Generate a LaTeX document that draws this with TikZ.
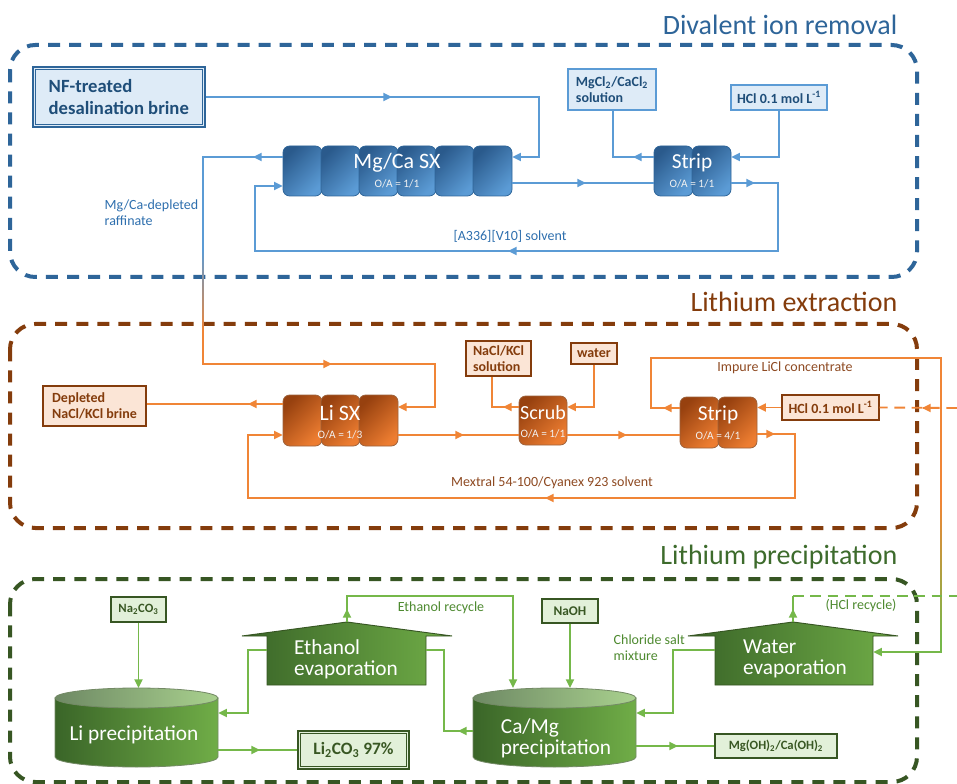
\documentclass[tikz,border=0pt]{standalone}
\usepackage{fontspec}
\setmainfont{Carlito}
\usetikzlibrary{arrows.meta,calc,fit}
\definecolor{bdark}{HTML}{2E6599}
\definecolor{bline}{HTML}{5B9BD5}
\definecolor{bfill}{HTML}{DEEBF7}
\definecolor{btext}{HTML}{1F4E79}
\definecolor{blabel}{HTML}{2E6FAE}
\definecolor{bblk1}{HTML}{2A5A8C}
\definecolor{bblk2}{HTML}{5B9BD5}
\definecolor{brn}{HTML}{843C0C}
\definecolor{olabel}{HTML}{8E4A22}
\definecolor{oline}{HTML}{F08536}
\definecolor{ofill}{HTML}{FBE5D6}
\definecolor{oblk1}{HTML}{97410F}
\definecolor{oblk2}{HTML}{ED7D31}
\definecolor{gdark}{HTML}{375623}
\definecolor{gtitle}{HTML}{3D6B2C}
\definecolor{glabel}{HTML}{4E8A30}
\definecolor{gline}{HTML}{75B84A}
\definecolor{gfill}{HTML}{E2F0D9}
\definecolor{gtext}{HTML}{385723}
\definecolor{gblk1}{HTML}{3A6528}
\definecolor{gblk2}{HTML}{70AD47}
\definecolor{gtop1}{HTML}{6E8964}
\definecolor{gtop2}{HTML}{A9D18E}
\newcommand\myfs[2]{\fontsize{#1}{#2}\selectfont}
\newcommand\tipat[3]{\draw[conn,#1,-{Triangle[length=6.5pt,width=6pt]}] ($(#2)+(#3)$) -- (#2);}
\tikzset{
  sec/.style={line width=3pt, dash pattern=on 9pt off 6.8pt, rounded corners=19pt},
  conn/.style={line width=1.4pt},
  tip/.style={-{Triangle[length=6.5pt,width=6pt]}},
  ttl/.style={anchor=base east, font=\myfs{21}{25}},
  bbox/.style={inner sep=0pt, draw=bline, line width=1pt, fill=bfill},
  obox/.style={inner sep=0pt, draw=brn, line width=1pt, fill=ofill},
  gbox/.style={inner sep=0pt, draw=gdark, line width=1pt, fill=gfill},
  btxt/.style={text=btext, align=left, font=\bfseries\myfs{10.5}{12}},
  otxt/.style={text=brn, align=left, font=\bfseries\myfs{10.5}{12}},
  gtxt/.style={text=gtext, align=left, font=\bfseries\myfs{10}{12}},
  blkB/.style={draw=bdark, line width=0.6pt, rounded corners=5pt, top color=bblk1, bottom color=bblk2, shading angle=45},
  blkO/.style={draw=brn!80, line width=0.6pt, rounded corners=5pt, top color=oblk1, bottom color=oblk2, shading angle=45},
  blab/.style={text=white, font=\myfs{16.5}{18}},
  slab/.style={text=white, font=\myfs{16}{18}},
  oalab/.style={text=white!90!gray, font=\myfs{8.5}{10}},
  lbl/.style={font=\myfs{10.5}{12}, align=left},
  cylb/.style={draw=gdark!70, line width=0.6pt, left color=gblk1, right color=gblk2},
  cylt/.style={draw=gdark!70, line width=0.6pt, left color=gtop1, right color=gtop2},
  evap/.style={draw=gdark, line width=0.7pt, left color=gblk1, right color=gblk2},
  wlab/.style={text=white, align=left, font=\myfs{16}{16}},
}
\begin{document}
\begin{tikzpicture}[x=0.75pt,y=-0.75pt]
\useasboundingbox (0,0) rectangle (957,784);
\fill[white] (0,0) rectangle (957,784);
% sections
\draw[sec,draw=bdark] (10,45) rectangle (917,277);
\draw[sec,draw=brn] (10,324) rectangle (917,528);
\draw[sec,draw=gdark] (10,579) rectangle (917,782);
\node[ttl,text=bdark] (t1) at (902,35) {Divalent ion removal};
\node[ttl,text=brn] (t2) at (902,312) {Lithium extraction};
\node[ttl,text=gtitle] (t3) at (902,564) {Lithium precipitation};

% ---------- blue section ----------
\node[fit={(33,67)(205,127)}, inner sep=0pt, draw=bdark, line width=2.2pt, fill=bfill] (nf) {};
\draw[bdark, line width=0.8pt] ($(nf.north west)+(4,4)$) rectangle ($(nf.south east)+(-4,-4)$);
\node[anchor=west, align=left, text=btext, font=\bfseries\myfs{14}{16.5}] (nftxt) at (44,97) {NF-treated\\desalination brine};
\node[bbox, fit={(568,69)(656,110)}] (mgcl) {};
\node[btxt] (mgclt) at (mgcl.center) {MgCl\textsubscript{2}/CaCl\textsubscript{2}\\solution};
\node[bbox, fit={(731,85)(827,110)}] (hcl) {};
\node[btxt] (hclt) at (hcl.center) {HCl 0.1 mol L\textsuperscript{-1}};
\foreach \i in {0,...,5}{\path[blkB] ({283+38*\i},146) rectangle ({283+38*\i+39},196);}
\node[fit={(283,146)(512,196)}, inner sep=0pt] (sx) {};
\node[blab] (sxl) at (397,163) {Mg/Ca SX};
\node[oalab] (sxo) at (397,184) {O/A = 1/1};
\path[blkB] (654,146) rectangle (693,196);
\path[blkB] (692,146) rectangle (731,196);
\node[fit={(654,146)(731,196)}, inner sep=0pt] (strip) {};
\node[slab] (stl) at (692,163) {Strip};
\node[oalab] (sto) at (692,184) {O/A = 1/1};

\draw[conn,bline,tip] (nf.east) -- (nf.east -| 539,0) -- (539,157) -- (sx.east |- 0,157);
\tipat{bline}{392,97}{-1,0}
\draw[conn,bline] (sx.west |- 0,157) -- (203,157) -- (203,251);
\path[top color=bline,bottom color=oline] (202.07,250) rectangle (203.93,331);
\draw[conn,oline,tip] (203,330) -- (203,364) -- (435,364) -- (435,407) -- (398,407);
\tipat{bline}{253,157}{1,0}
\tipat{oline}{332,364}{-1,0}
\draw[conn,bline] (sx.east |- 0,183) -- (strip.west |- 0,183);
\tipat{bline}{586,183}{-1,0}
\draw[conn,bline] (strip.west |- 0,157) -- (613,157) -- (613,0 |- mgcl.south);
\tipat{bline}{633,157}{1,0}
\draw[conn,bline,tip] (hcl.south) -- (hcl.south |- 0,157) -- (strip.east |- 0,157);
\draw[conn,bline,tip] (strip.east |- 0,183) -- (778,183) -- (778,251) -- (255,251) -- (255,186) -- (sx.west |- 0,186);
\tipat{bline}{755,183}{-1,0}
\tipat{bline}{508,251}{1,0}
\node[lbl, text=blabel, anchor=west] (raff) at (100,213) {Mg/Ca-depleted\\raffinate};
\node[lbl, text=blabel] (solv) at (510,236) {[A336][V10] solvent};

% ---------- brown section ----------
\path[blkO] (283,395) rectangle (322,446);
\path[blkO] (321,395) rectangle (360,446);
\path[blkO] (359,395) rectangle (398,446);
\node[fit={(283,395)(398,446)}, inner sep=0pt] (lisx) {};
\node[blab] (lil) at (340,413) {Li SX};
\node[oalab] (lio) at (340,435) {O/A = 1/3};
\path[blkO] (519,396) rectangle (567,445);
\node[fit={(519,396)(567,445)}, inner sep=0pt] (scrub) {};
\node[slab, font=\myfs{15}{17}] (scl) at (543,413) {Scrub};
\node[oalab] (sco) at (543,434) {O/A = 1/1};
\path[blkO] (680,397) rectangle (719,448);
\path[blkO] (718,397) rectangle (757,448);
\node[fit={(680,397)(757,448)}, inner sep=0pt] (strip2) {};
\node[slab] (s2l) at (718,415) {Strip};
\node[oalab] (s2o) at (718,436) {O/A = 4/1};
\node[obox, fit={(43,386)(146,426)}] (dep) {};
\node[otxt] (dept) at (dep.center) {Depleted\\NaCl/KCl brine};
\node[obox, fit={(466,341)(531,376)}] (nacl) {};
\node[otxt] (naclt) at (nacl.center) {NaCl/KCl\\solution};
\node[obox, fit={(571,343)(617,364)}] (water) {};
\node[otxt] (watert) at (water.center) {water};
\node[obox, fit={(782,395)(879,420)}] (hcl2) {};
\node[otxt] (hcl2t) at (hcl2.center) {HCl 0.1 mol L\textsuperscript{-1}};
\coordinate (hclin) at (957,408);

\draw[conn,oline] (lisx.west |- 0,404) -- (dep.east |- 0,404);
\tipat{oline}{248,404}{1,0}
\draw[conn,oline] (lisx.east |- 0,435) -- (scrub.west |- 0,435);
\tipat{oline}{464,435}{-1,0}
\draw[conn,oline] (scrub.west |- 0,407) -- (492,407) -- (492,0 |- nacl.south);
\tipat{oline}{503,407}{1,0}
\draw[conn,oline,tip] (water.south) -- (water.south |- 0,407) -- (scrub.east |- 0,407);
\draw[conn,oline] (scrub.east |- 0,435) -- (strip2.west |- 0,435);
\tipat{oline}{627,435}{-1,0}
\draw[conn,oline,tip] (hcl2.west) -- (strip2.east |- hcl2.west);
\draw[conn,oline,dash pattern=on 8pt off 5pt] (hclin) -- (hcl2.east);
\tipat{oline}{922,408}{1,0}
\draw[conn,oline,tip] (strip2.east |- 0,434) -- (795,434) -- (795,498) -- (248,498) -- (248,435) -- (lisx.west |- 0,435);
\tipat{oline}{775,434}{-1,0}
\tipat{oline}{545,498}{1,0}
\draw[conn,oline] (strip2.west |- 0,408) -- (651,408) -- (651,358) -- (941,358) -- (941,501);
\tipat{oline}{663,408}{1,0}
\path[top color=oline,bottom color=gline] (940.07,500) rectangle (941.93,641);
\node[lbl, text=olabel] (mext) at (552,483) {Mextral 54-100/Cyanex 923 solvent};
\node[lbl, text=olabel] (imp) at (785,368) {Impure LiCl concentrate};

% ---------- green section ----------
\path[cylb] (55,698) -- (55,757) arc[start angle=180,end angle=360,x radius=61.125pt,y radius=7.5pt] -- (218,698) -- cycle;
\path[cylt] (136.5,698) ellipse [x radius=61.125pt, y radius=7.5pt];
\node[fit={(55,688)(218,767)}, inner sep=0pt] (lip) {};
\node[wlab] (lipl) at (134,735) {Li precipitation};
\path[cylb] (473,698) -- (473,757) arc[start angle=180,end angle=360,x radius=61.125pt,y radius=7.5pt] -- (636,698) -- cycle;
\path[cylt] (554.5,698) ellipse [x radius=61.125pt, y radius=7.5pt];
\node[fit={(473,688)(636,767)}, inner sep=0pt] (camg) {};
\node[wlab] (camgl) at (556,738) {Ca/Mg\\precipitation};
\path[evap] (242,636) -- (347,622) -- (452,636) -- (426,636) -- (426,685) -- (267,685) -- (267,636) -- cycle;
\node[fit={(267,636)(426,685)}, inner sep=0pt] (eevap) {};
\coordinate (epeak) at (347,622);
\node[wlab] (eevl) at (346,659) {Ethanol\\evaporation};
\path[evap] (688,636) -- (793,622) -- (898,636) -- (873,636) -- (873,685) -- (715,685) -- (715,636) -- cycle;
\node[fit={(715,636)(873,685)}, inner sep=0pt] (wevap) {};
\coordinate (wpeak) at (793,622);
\node[wlab] (wevl) at (795,659) {Water\\evaporation};
\node[gbox, fit={(111,597)(166,622)}] (na) {};
\node[gtxt, font=\bfseries\myfs{9.5}{11}] (nat) at (na.center) {Na\textsubscript{2}CO\textsubscript{3}};
\node[gbox, fit={(542,599)(598,623)}] (naoh) {};
\node[gtxt] (naoht) at (naoh.center) {NaOH};
\node[gbox, fit={(715,734)(837,758)}] (mgoh) {};
\node[gtxt, font=\bfseries\myfs{9.5}{11}] (mgoht) at (mgoh.center) {Mg(OH)\textsubscript{2}/Ca(OH)\textsubscript{2}};
\node[fit={(298,731)(409,769)}, inner sep=0pt, draw=gdark, line width=2.2pt, fill=gfill] (li2) {};
\draw[gdark, line width=0.8pt] ($(li2.north west)+(4,4)$) rectangle ($(li2.south east)+(-4,-4)$);
\node[text=gtext, font=\bfseries\myfs{13}{15}] (li2l) at (li2.center) {Li\textsubscript{2}CO\textsubscript{3} 97\%};
\coordinate (hclout) at (957,596);

\draw[conn,gline,tip] (na.south) -- (na.south |- 0,688);
\draw[conn,gline,tip] (eevap.west |- 0,650) -- (248,650) -- (248,713) -- (lip.east |- 0,713);
\draw[conn,gline] (camg.west |- 0,731) -- (444,731) -- (444,650) -- (eevap.east |- 0,650);
\tipat{gline}{458,731}{1,0}
\draw[conn,gline,tip] (epeak) -- (347,596) -- (513,596) -- (513,688);
\tipat{gline}{347,609}{0,1}
\draw[conn,gline] (lip.east |- li2.west) -- (li2.west);
\tipat{gline}{260,750}{-1,0}
\draw[conn,gline,tip] (naoh.south) -- (naoh.south |- 0,688);
\draw[conn,gline,tip] (wevap.west |- 0,650) -- (673,650) -- (673,713) -- (camg.east |- 0,713);
\draw[conn,gline] (wpeak) -- (793,596);
\draw[conn,gline,dash pattern=on 8pt off 5pt] (793,596) -- (hclout);
\tipat{gline}{793,609}{0,1}
\draw[conn,gline,tip] (941,640) -- (941,652) -- (wevap.east |- 0,652);
\draw[conn,gline] (camg.east |- mgoh.west) -- (mgoh.west);
\tipat{gline}{678,746}{-1,0}
\node[lbl, text=glabel] (erec) at (441,608) {Ethanol recycle};
\node[lbl, text=glabel, anchor=west] (chl) at (609,648) {Chloride salt\\mixture};
\node[lbl, text=glabel] (hrec) at (861,606) {(HCl recycle)};
\end{tikzpicture}
\end{document}
